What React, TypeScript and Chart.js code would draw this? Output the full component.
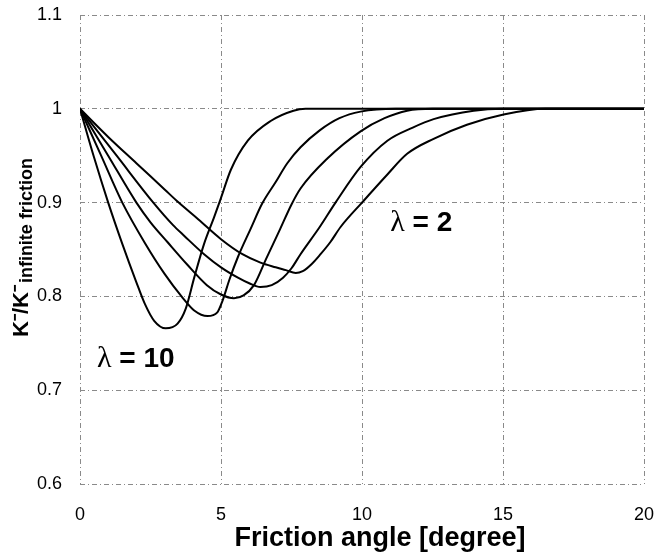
import React, { useEffect, useRef } from "react";
import { Chart, registerables } from "chart.js";

Chart.register(...registerables);

// Axis ticks
const xTickValues = [0, 5, 10, 15, 20];
const yTickValues = [0.6, 0.7, 0.8, 0.9, 1, 1.1];

// Curve λ = 10
const lambda10X = [0, 0.5, 1.0, 1.5, 2.0, 2.3, 2.63, 3.04, 3.46, 3.75, 4.05, 4.4, 4.75, 5.0, 5.35, 5.95, 6.76, 7.57, 8.0, 20];
const lambda10Y = [1, 0.948, 0.9, 0.856, 0.815, 0.792, 0.774, 0.766, 0.771, 0.787, 0.82, 0.856, 0.884, 0.905, 0.935, 0.966, 0.987, 0.998, 1, 1];

// Intermediate curves
const lambdaBX = [0, 0.75, 1.5, 2.3, 3.0, 3.6, 4.05, 4.52, 4.87, 5.05, 5.3, 5.6, 6.05, 6.46, 6.94, 7.35, 7.82, 8.5, 9.2, 9.95, 11.2, 20];
const lambdaBY = [1, 0.95, 0.9, 0.857, 0.824, 0.8, 0.785, 0.779, 0.783, 0.795, 0.818, 0.842, 0.872, 0.899, 0.922, 0.942, 0.959, 0.977, 0.99, 0.997, 1, 1];

const lambdaCX = [0, 1.0, 2.0, 2.5, 3.1, 3.8, 4.5, 5.0, 5.46, 5.8, 6.17, 6.6, 7.1, 7.5, 7.82, 8.77, 9.95, 10.8, 11.6, 12.5, 20];
const lambdaCY = [1, 0.95, 0.9, 0.879, 0.858, 0.834, 0.812, 0.802, 0.798, 0.801, 0.812, 0.84, 0.872, 0.898, 0.915, 0.947, 0.976, 0.99, 0.998, 1, 1];

const lambdaDX = [0, 1.3, 2.6, 3.3, 3.7, 4.4, 5.0, 5.6, 6.0, 6.4, 6.8, 7.2, 7.5, 7.82, 8.5, 9.06, 9.95, 10.9, 11.8, 12.54, 13.96, 15, 20];
const lambdaDY = [1, 0.95, 0.9, 0.876, 0.8645, 0.845, 0.831, 0.82, 0.814, 0.81, 0.812, 0.82, 0.83, 0.845, 0.874, 0.9, 0.938, 0.966, 0.98, 0.989, 0.998, 1, 1];

// Curve λ = 2
const lambda2X = [0, 1.0, 2.0, 3.0, 3.5, 4.2, 5.0, 5.76, 6.4, 6.94, 7.3, 7.65, 7.9, 8.2, 8.53, 8.88, 9.24, 10.0, 10.9, 11.6, 12.54, 13.72, 15.02, 16.5, 20];
const lambda2Y = [1, 0.97, 0.942, 0.914, 0.9, 0.882, 0.861, 0.845, 0.836, 0.831, 0.828, 0.825, 0.827, 0.834, 0.845, 0.858, 0.874, 0.9, 0.93, 0.952, 0.968, 0.983, 0.994, 1, 1];

// Curve annotations (in data units)
const curveLabelValues = ["10", "2"];
const curveLabelX = [0.6, 11.0];
const curveLabelY = [0.7245, 0.87];

const xTitle = "Friction angle [degree]";
const yTitleMain = "K\u207B/K\u207B";
const yTitleSub = "infinite friction";

const SANS = 'Arial, "Liberation Sans", sans-serif';
const SERIF = '"Times New Roman", "Liberation Serif", serif';

const toPoints = (xs: number[], ys: number[]) => xs.map((x, i) => ({ x, y: ys[i] }));

const textPlugin = {
  id: "textPlugin",
  afterDraw(chart: any) {
    const ctx = chart.ctx as CanvasRenderingContext2D;
    const xs = chart.scales.x;
    const ys = chart.scales.y;
    ctx.save();
    ctx.fillStyle = "#000";
    ctx.textBaseline = "alphabetic";
    ctx.textAlign = "left";
    // lambda labels
    curveLabelValues.forEach((v, i) => {
      const px = xs.getPixelForValue(curveLabelX[i]);
      const py = ys.getPixelForValue(curveLabelY[i]);
      ctx.font = `30px ${SERIF}`;
      ctx.fillText("\u03BB", px, py);
      const w = ctx.measureText("\u03BB").width;
      ctx.font = `bold 28px ${SANS}`;
      ctx.fillText(" = " + v, px + w, py);
    });
    // x title
    ctx.font = `bold 27px ${SANS}`;
    ctx.textAlign = "center";
    ctx.fillText(xTitle, 380, 546);
    // y title (rotated)
    ctx.translate(28, 337);
    ctx.rotate(-Math.PI / 2);
    ctx.textAlign = "left";
    ctx.font = `bold 22px ${SANS}`;
    ctx.fillText(yTitleMain, 0, 0);
    const wm = ctx.measureText(yTitleMain).width;
    ctx.font = `bold 18px ${SANS}`;
    ctx.fillText(yTitleSub, wm + 2, 4);
    ctx.restore();
  },
};

export default function App() {
  const canvasRef = useRef<HTMLCanvasElement | null>(null);

  useEffect(() => {
    if (!canvasRef.current) return;
    const series = [
      toPoints(lambda10X, lambda10Y),
      toPoints(lambdaBX, lambdaBY),
      toPoints(lambdaCX, lambdaCY),
      toPoints(lambdaDX, lambdaDY),
      toPoints(lambda2X, lambda2Y),
    ];
    const gridOpts = {
      color: "#8a8a8a",
      lineWidth: 1,
      drawTicks: false,
    };
    const chart = new Chart(canvasRef.current, {
      type: "line",
      data: {
        datasets: series.map((d) => ({
          data: d,
          borderColor: "#000",
          borderWidth: 2,
          pointRadius: 0,
          fill: false,
          cubicInterpolationMode: "monotone" as const,
        })),
      },
      options: {
        responsive: false,
        animation: false,
        events: [],
        layout: { padding: { top: 15, right: 13, left: 0, bottom: 0 } },
        plugins: {
          legend: { display: false },
          tooltip: { enabled: false },
        },
        scales: {
          x: {
            type: "linear",
            min: 0,
            max: 20,
            afterBuildTicks: (scale: any) => {
              scale.ticks = xTickValues.map((v) => ({ value: v }));
            },
            afterFit: (scale: any) => {
              scale.height = 72;
              scale.paddingLeft = 0;
              scale.paddingRight = 0;
            },
            grid: gridOpts,
            border: { display: false, dash: [5, 3, 1, 3] },
            ticks: {
              color: "#000",
              padding: 20,
              maxRotation: 0,
              font: { family: SANS, size: 18 },
            },
          },
          y: {
            type: "linear",
            min: 0.6,
            max: 1.1,
            afterBuildTicks: (scale: any) => {
              scale.ticks = yTickValues.map((v) => ({ value: v }));
            },
            afterFit: (scale: any) => {
              scale.width = 80;
              scale.paddingTop = 0;
              scale.paddingBottom = 0;
            },
            grid: gridOpts,
            border: { display: false, dash: [5, 3, 1, 3] },
            ticks: {
              color: "#000",
              padding: 18,
              font: { family: SANS, size: 18 },
              callback: (v: any) => String(Math.round(Number(v) * 10) / 10),
            },
          },
        },
      },
      plugins: [textPlugin],
    });
    return () => chart.destroy();
  }, []);

  return (
    <div style={{ position: "fixed", left: 0, top: 0, width: 657, height: 556 }}>
      <canvas ref={canvasRef} width={657} height={556} style={{ display: "block" }} />
    </div>
  );
}
